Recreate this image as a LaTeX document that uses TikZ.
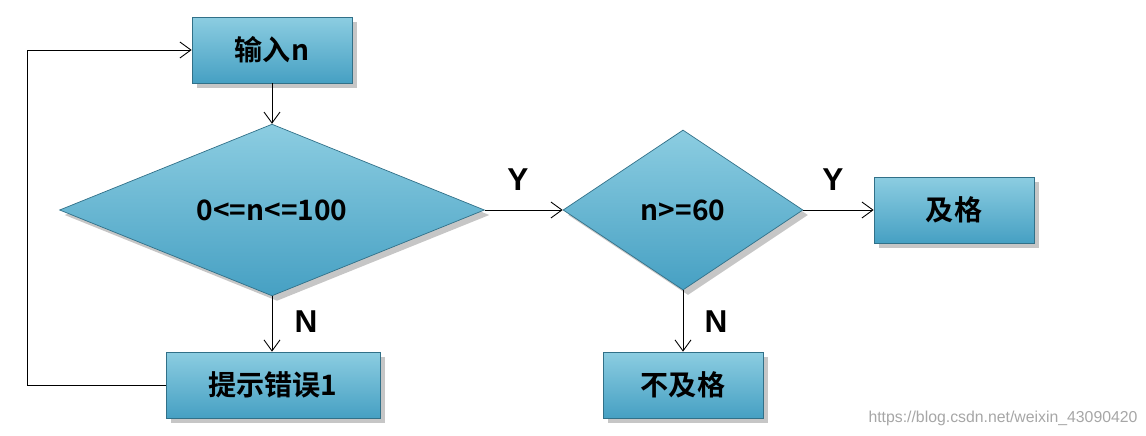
\documentclass[tikz,border=0pt]{standalone}
\usepackage{fontspec}
\setmainfont{Liberation Sans}
\newfontfamily\cjk{Noto Sans CJK SC}[BoldFont={Noto Sans CJK SC Bold}]
\usetikzlibrary{arrows.meta, shapes.geometric, shadows}
\definecolor{boxtop}{RGB}{140,205,225}
\definecolor{boxbot}{RGB}{70,160,195}
\tikzset{
  flow/.style={draw=boxbot!70!black, top color=boxtop, bottom color=boxbot,
    drop shadow={opacity=0.45, shadow xshift=1mm, shadow yshift=-1mm},
    font=\fontsize{16}{18}\selectfont\bfseries\cjk, inner sep=0pt},
  stepbox/.style={flow, rectangle, minimum width=#1, minimum height=1.32cm},
  test/.style={flow, diamond, minimum height=3.2cm},
  link/.style={-{Straight Barb[length=2.2mm,width=3.2mm]}, line width=0.5pt},
  tag/.style={font=\fontsize{18}{20}\selectfont\bfseries}
}
\begin{document}
\begin{tikzpicture}[x=0.02cm, y=-0.02cm]
\useasboundingbox (0,0) rectangle (1146,436);
\node[stepbox=3.2cm] (in) at (272,50) {输入n};
\node[test, minimum width=8.5cm] (range) at (272,210) {0<=n<=100};
\node[stepbox=4.28cm] (err) at (273,385) {提示错误1};
\node[test, minimum width=4.8cm] (pass) at (683,210) {n>=60};
\node[stepbox=3.2cm] (ok) at (954,210) {及格};
\node[stepbox=3.2cm] (fail) at (683,385) {不及格};
\coordinate (lb) at (27,385);
\coordinate (lt) at (27,50);

\draw[link] (in) -- (range);
\draw[link] (range) -- (range.south |- err.north);
\draw[link] (range) -- (pass);
\draw[link] (pass) -- (ok);
\draw[link] (pass) -- (fail);
\draw[link] (err.west) -- (lb) -- (lt) -- (in.west);

\node[tag] (y1) at (518,180) {Y};
\node[tag] (y2) at (833,180) {Y};
\node[tag] (n1) at (306,322) {N};
\node[tag] (n2) at (716,322) {N};
\node[text=gray!70, font=\small] (wm) at (1003,418) {https://blog.csdn.net/weixin\_43090420};
\end{tikzpicture}
\end{document}
